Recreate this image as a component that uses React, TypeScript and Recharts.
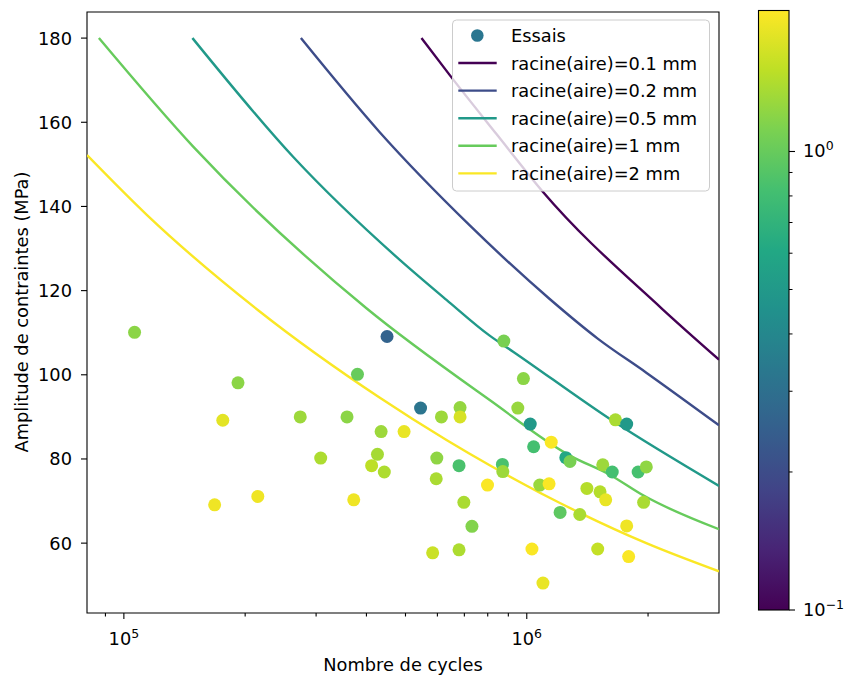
import React from 'react';
import { ComposedChart, Line, Scatter, XAxis, YAxis, ReferenceArea } from 'recharts';

// ---- Essais (scatter) ----
const essaisCycles = [
  106300, 192000, 176000, 215000, 168000, 450000, 380000, 545000, 274000, 358000,
  614000, 683000, 683000, 435000, 496000, 308000, 426000, 412000, 443000, 598000,
  679000, 596000, 372000, 698000, 731000, 584000, 679000, 799000, 877000, 981000,
  950000, 1020000, 1150000, 1040000, 870000, 872000, 1250000, 1280000, 1077000, 1136000,
  1210000, 1354000, 1410000, 1544000, 1630000, 1520000, 1570000, 1660000, 1770000, 1890000,
  1980000, 1950000, 1770000, 1030000, 1500000, 1790000, 1097000,
];
const essaisAmplitude = [
  110.1, 98.1, 89.2, 71.1, 69.1, 109.1, 100.1, 92.1, 90.0, 90.0,
  90.0, 92.2, 90.0, 86.5, 86.5, 80.2, 81.1, 78.4, 76.9, 80.2,
  78.4, 75.3, 70.3, 69.7, 64.0, 57.7, 58.4, 73.8, 108.0, 99.1,
  92.1, 88.3, 84.0, 82.9, 78.7, 77.0, 80.3, 79.4, 73.8, 74.1,
  67.3, 66.8, 73.0, 78.6, 76.9, 72.2, 70.3, 89.3, 88.3, 76.9,
  78.1, 69.7, 64.1, 58.6, 58.6, 56.8, 50.5,
];
const essaisRacineAire = [
  1.2, 1.2, 1.8, 1.9, 1.9, 0.26, 1.0, 0.32, 1.3, 1.2,
  1.3, 1.25, 1.7, 1.3, 1.85, 1.4, 1.35, 1.5, 1.4, 1.22,
  0.85, 1.38, 1.9, 1.38, 1.15, 1.6, 1.4, 2.0, 1.1, 1.2,
  1.27, 0.5, 2.0, 0.82, 0.85, 1.3, 0.6, 1.1, 1.28, 2.0,
  0.95, 1.38, 1.45, 1.3, 0.82, 1.45, 1.85, 1.38, 0.5, 0.83,
  1.23, 1.38, 1.9, 2.0, 1.55, 2.0, 1.85,
];

// ---- Courbes ----
const curve01Cycles = [548000, 644000, 841000, 1096000, 2160000, 3000000];
const curve01Amp = [180, 171.2, 157.2, 143.5, 115.8, 103.6];
const curve02Cycles = [275000, 431000, 722000, 1140000, 1500000, 1980000, 3000000];
const curve02Amp = [180, 157.7, 135.5, 118.0, 108.6, 100.5, 88.0];
const curve05Cycles = [148000, 263000, 484000, 632000, 809000, 925000, 1637000, 3000000];
const curve05Amp = [180, 151.8, 127.3, 117.8, 109.3, 105.5, 89.0, 73.6];
const curve1Cycles = [86700, 148600, 400000, 809000, 1280000, 1610000, 1950000, 3000000];
const curve1Amp = [180, 154.2, 115.8, 94.0, 80.8, 76.2, 71.3, 63.3];
const curve2Cycles = [81000, 114000, 215000, 431000, 632000, 809000, 1354000, 1980000, 3000000];
const curve2Amp = [152.2, 138.0, 115.4, 94.6, 84.5, 78.5, 67.2, 60.0, 53.3];

const curveSizes = [0.1, 0.2, 0.5, 1, 2];
const curveLabels = [
  'racine(aire)=0.1 mm',
  'racine(aire)=0.2 mm',
  'racine(aire)=0.5 mm',
  'racine(aire)=1 mm',
  'racine(aire)=2 mm',
];

const xTicks = [90000, 100000, 200000, 300000, 400000, 500000, 600000, 700000, 800000, 900000, 1000000, 2000000];
const yTicks = [60, 80, 100, 120, 140, 160, 180];
const X_DOMAIN = [81000, 3000000];
const Y_DOMAIN = [43.4, 186.2];
const C_MIN = 0.1;
const C_MAX = 2.03;

const VIRIDIS = ['#440154', '#482475', '#414487', '#355f8d', '#2a788e', '#21918c', '#22a884', '#44bf70', '#7ad151', '#bddf26', '#fde725'];

function hexToRgb(h: string) {
  return [parseInt(h.slice(1, 3), 16), parseInt(h.slice(3, 5), 16), parseInt(h.slice(5, 7), 16)];
}
function viridis(t: number) {
  const tt = Math.max(0, Math.min(1, t));
  const p = tt * (VIRIDIS.length - 1);
  const i = Math.min(Math.floor(p), VIRIDIS.length - 2);
  const f = p - i;
  const a = hexToRgb(VIRIDIS[i]);
  const b = hexToRgb(VIRIDIS[i + 1]);
  const c = a.map((v, k) => Math.round(v + (b[k] - v) * f));
  return `rgb(${c[0]},${c[1]},${c[2]})`;
}
function colorFor(v: number) {
  return viridis(Math.log10(v / C_MIN) / Math.log10(C_MAX / C_MIN));
}

const essais = essaisCycles.map((x, i) => ({ x, y: essaisAmplitude[i], v: essaisRacineAire[i] }));
const mk = (xs: number[], ys: number[]) => xs.map((x, i) => ({ x, y: ys[i] }));
const curves = [
  mk(curve01Cycles, curve01Amp),
  mk(curve02Cycles, curve02Amp),
  mk(curve05Cycles, curve05Amp),
  mk(curve1Cycles, curve1Amp),
  mk(curve2Cycles, curve2Amp),
];

const FONT = 'DejaVu Sans, sans-serif';
const FS = 17.8;

const XTick = (props: any) => {
  const { x, y, payload } = props;
  const lg = Math.log10(payload.value);
  const major = Math.abs(lg - Math.round(lg)) < 1e-6;
  return (
    <g>
      <line x1={x} x2={x} y1={y} y2={y + (major ? 6 : 3.5)} stroke="#000" strokeWidth={1.1} />
      {major && (
        <text x={x} y={y + 32} textAnchor="middle" fontSize={FS} fill="#000" fontFamily={FONT}>
          10<tspan dy={-7} fontSize={12.5}>{Math.round(lg)}</tspan>
        </text>
      )}
    </g>
  );
};

const YTick = (props: any) => {
  const { x, y, payload } = props;
  return (
    <g>
      <line x1={x} x2={x - 6} y1={y} y2={y} stroke="#000" strokeWidth={1.1} />
      <text x={x - 15} y={y} textAnchor="end" dominantBaseline="central" fontSize={FS} fill="#000" fontFamily={FONT}>
        {payload.value}
      </text>
    </g>
  );
};

const Dot = (props: any) => {
  const { cx, cy, payload } = props;
  if (cx == null || cy == null) return null;
  return <circle cx={cx} cy={cy} r={6.5} fill={colorFor(payload.v)} />;
};

// colorbar geometry
const CB_X = 758.5;
const CB_TOP = 10.5;
const CB_BOT = 610;
const cbY = (v: number) => CB_BOT - (Math.log10(v / C_MIN) / Math.log10(C_MAX / C_MIN)) * (CB_BOT - CB_TOP);
const cbMinor = [0.2, 0.3, 0.4, 0.5, 0.6, 0.7, 0.8, 0.9];

export default function App() {
  const legendRows = [35.5, 63, 90.6, 118.2, 145.8, 173.4];
  return (
    <div style={{ position: 'absolute', left: 0, top: 0, width: 846, height: 677, background: '#fff', fontFamily: FONT }}>
      <ComposedChart width={846} height={677} margin={{ top: 12, right: 127, bottom: 0, left: 0 }}>
        <XAxis
          dataKey="x"
          type="number"
          scale="log"
          domain={X_DOMAIN}
          allowDataOverflow
          ticks={xTicks}
          interval={0}
          height={64}
          axisLine={false}
          tickLine={false}
          tickSize={0}
          tickMargin={0}
          tick={<XTick />}
        />
        <YAxis
          dataKey="y"
          type="number"
          domain={Y_DOMAIN}
          allowDataOverflow
          ticks={yTicks}
          interval={0}
          width={87}
          axisLine={false}
          tickLine={false}
          tickSize={0}
          tickMargin={0}
          tick={<YTick />}
        />
        <Scatter data={essais} dataKey="y" shape={<Dot />} isAnimationActive={false} />
        {curves.map((c, i) => (
          <Line
            key={i}
            data={c}
            dataKey="y"
            type="monotone"
            stroke={colorFor(curveSizes[i])}
            strokeWidth={2.4}
            dot={false}
            activeDot={false}
            isAnimationActive={false}
          />
        ))}
        <ReferenceArea
          x1={X_DOMAIN[0]}
          x2={X_DOMAIN[1]}
          y1={Y_DOMAIN[0]}
          y2={Y_DOMAIN[1]}
          fill="none"
          fillOpacity={0}
          stroke="#000"
          strokeWidth={1.1}
          strokeOpacity={1}
          ifOverflow="visible"
        />
      </ComposedChart>
      <svg width={846} height={677} style={{ position: 'absolute', left: 0, top: 0, pointerEvents: 'none' }} fontFamily={FONT}>
        <defs>
          <linearGradient id="vir" x1="0" y1="1" x2="0" y2="0">
            {VIRIDIS.map((c, i) => (
              <stop key={i} offset={`${(i / (VIRIDIS.length - 1)) * 100}%`} stopColor={c} />
            ))}
          </linearGradient>
        </defs>
        {/* legend */}
        <rect x={452.5} y={20} width={257} height={171} rx={4} fill="#fff" fillOpacity={0.8} stroke="#cccccc" strokeWidth={1} />
        <circle cx={477.3} cy={legendRows[0]} r={6.3} fill="#2a7690" />
        <text x={511} y={legendRows[0]} dominantBaseline="central" fontSize={FS} fill="#000">Essais</text>
        {curveLabels.map((lab, i) => (
          <g key={lab}>
            <line x1={458.3} x2={496.7} y1={legendRows[i + 1]} y2={legendRows[i + 1]} stroke={colorFor(curveSizes[i])} strokeWidth={2.4} />
            <text x={511} y={legendRows[i + 1]} dominantBaseline="central" fontSize={FS} fill="#000">{lab}</text>
          </g>
        ))}
        {/* axis titles */}
        <text x={403} y={671} textAnchor="middle" fontSize={FS} fill="#000">Nombre de cycles</text>
        <text x={21} y={312} textAnchor="middle" dominantBaseline="central" fontSize={FS} fill="#000" transform="rotate(-90 21 312)">
          Amplitude de contraintes (MPa)
        </text>
        {/* colorbar */}
        <rect x={CB_X} y={CB_TOP} width={30.5} height={CB_BOT - CB_TOP} fill="url(#vir)" stroke="#000" strokeWidth={1.1} />
        {cbMinor.map((v) => (
          <line key={v} x1={CB_X + 30.5} x2={CB_X + 34} y1={cbY(v)} y2={cbY(v)} stroke="#000" strokeWidth={1} />
        ))}
        <line x1={CB_X + 30.5} x2={CB_X + 36.5} y1={cbY(1)} y2={cbY(1)} stroke="#000" strokeWidth={1.1} />
        <line x1={CB_X + 30.5} x2={CB_X + 36.5} y1={cbY(0.1)} y2={cbY(0.1)} stroke="#000" strokeWidth={1.1} />
        <text x={803} y={cbY(1) + 6} fontSize={FS} fill="#000">10<tspan dy={-7} fontSize={12.5}>0</tspan></text>
        <text x={803} y={cbY(0.1) + 6} fontSize={FS} fill="#000">10<tspan dy={-7} fontSize={12.5}>−1</tspan></text>
      </svg>
    </div>
  );
}
